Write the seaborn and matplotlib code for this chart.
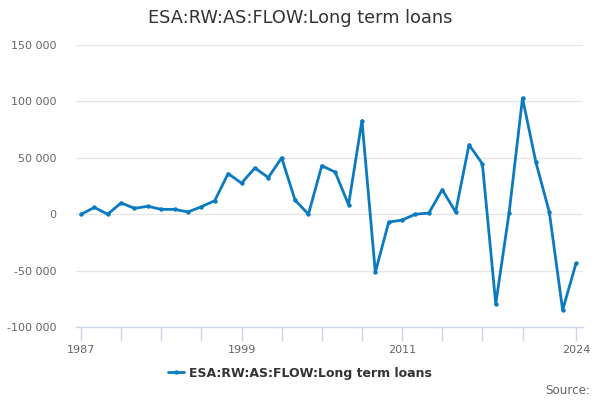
import numpy as np
import pandas as pd
import matplotlib
matplotlib.use("Agg")
import matplotlib.pyplot as plt
import matplotlib.ticker as ticker
import seaborn as sns

years = list(range(1987, 2025))
values = [
    -200, 6000, 0, 10000, 5200, 7000, 4300, 4300, 2000, 6600,
    12000, 36000, 27500, 41000, 32500, 50000, 12500, 0, 43000, 37300,
    8400, 83000, -51500, -7000, -5200, 0, 1000, 21700, 2000, 61500,
    44700, -79500, 1500, 103000, 46000, 2000, -85000, -43500,
]
series_name = "ESA:RW:AS:FLOW:Long term loans"
tick_years = list(range(1987, 2021, 3)) + [2024]
label_years = [1987, 1999, 2011, 2024]
y_ticks = [-100000, -50000, 0, 50000, 100000, 150000]

df = pd.DataFrame({"year": years, "value": values})

sns.set_theme(style="white")
plt.rcParams["font.family"] = ["DejaVu Sans"]

line_color = "#0b7bc1"
fig = plt.figure(figsize=(6, 4), dpi=100)
ax = fig.add_axes([76 / 600, 1 - 327 / 400, (583 - 76) / 600, (327 - 45) / 400])

sns.lineplot(data=df, x="year", y="value", ax=ax, color=line_color, linewidth=2,
             marker="o", markersize=3.2, markeredgewidth=0, label=series_name, legend=False)

ax.set_xlim(1986.63, 2024.52)
ax.set_ylim(-100000, 150000)
ax.set_yticks(y_ticks)
ax.yaxis.set_major_formatter(ticker.FuncFormatter(lambda v, p: f"{int(v):,}".replace(",", " ")))
ax.set_xticks(tick_years)
ax.set_xticklabels([str(y) if y in label_years else "" for y in tick_years])
ax.grid(axis="y", color="#e6e6e6", linewidth=1)
ax.set_axisbelow(True)
for s in ["top", "right", "left"]:
    ax.spines[s].set_visible(False)
ax.spines["bottom"].set_color("#ccd6eb")
ax.spines["bottom"].set_linewidth(1)
ax.tick_params(axis="x", bottom=True, colors="#ccd6eb", length=10, width=1, direction="out", pad=3,
               labelcolor="#666666", labelsize=8)
ax.tick_params(axis="y", left=False, length=0, labelcolor="#666666", labelsize=8, pad=14)
ax.set_xlabel("")
ax.set_ylabel("")

fig.text(0.5, 1 - 18 / 400, series_name, ha="center", va="center", fontsize=12.8, color="#333333")

handle = plt.Line2D([], [], color=line_color, linewidth=2, marker="o", markersize=3.2, markeredgewidth=0)
fig.legend([handle], [series_name], loc="center", bbox_to_anchor=(0.5, 1 - 373 / 400), frameon=False,
           prop={"weight": "bold", "size": 9}, labelcolor="#333333", handlelength=1.3, handletextpad=0.4)

fig.text(590 / 600, 1 - 390 / 400, "Source:", ha="right", va="center", fontsize=8.6, color="#666666")

fig.savefig("out.png", dpi=100)
